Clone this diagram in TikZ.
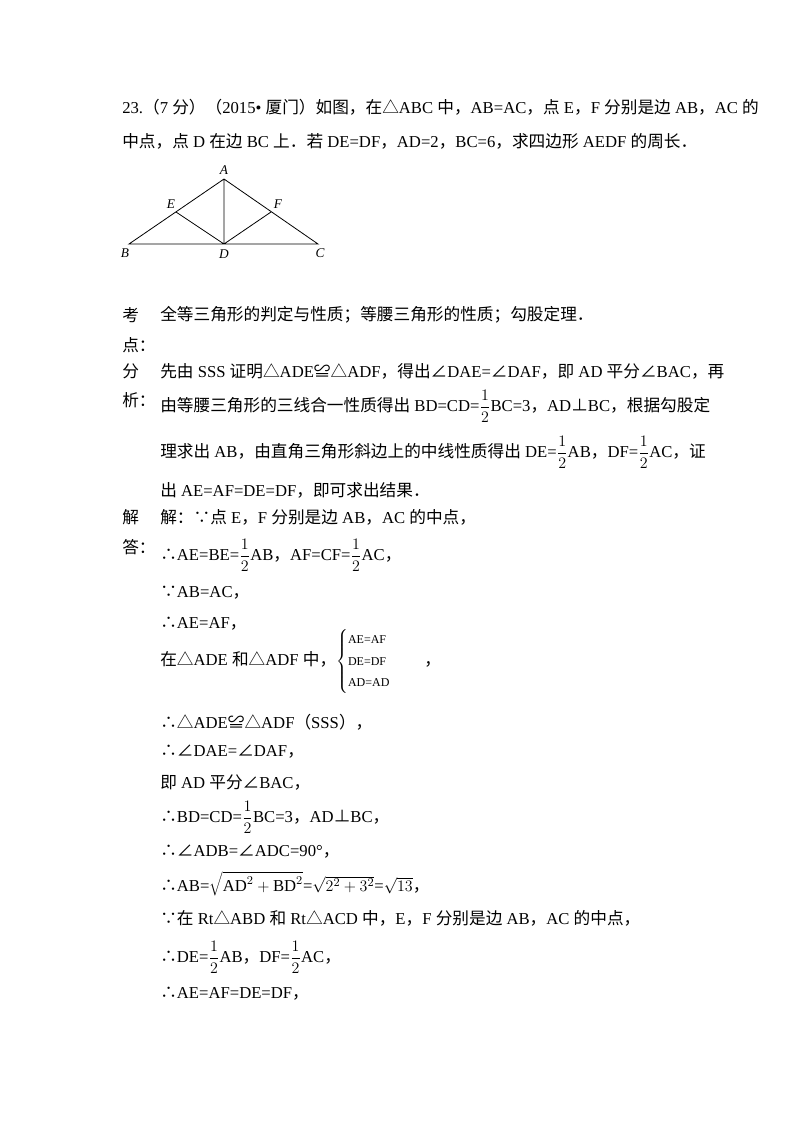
\documentclass[tikz,border=0pt]{standalone}
\usepackage{fontspec}
\setmainfont{Liberation Serif}
\newfontfamily\cjk{Noto Sans CJK SC}
\XeTeXinterchartokenstate=1
\newXeTeXintercharclass\cjkclass
\newXeTeXintercharclass\cjkp
\count255="4E00 \loop \XeTeXcharclass\count255=\cjkclass \ifnum\count255<"9FFF \advance\count255 by 1 \repeat
\count255="FF00 \loop \XeTeXcharclass\count255=\cjkp \ifnum\count255<"FF60 \advance\count255 by 1 \repeat
\count255="3000 \loop \XeTeXcharclass\count255=\cjkp \ifnum\count255<"303F \advance\count255 by 1 \repeat
\XeTeXcharclass"2234=\cjkp \XeTeXcharclass"2235=\cjkp \XeTeXcharclass"224C=\cjkp
\XeTeXcharclass"25B3=\cjkp \XeTeXcharclass"2220=\cjkp \XeTeXcharclass"22A5=\cjkp
\XeTeXinterchartoks 0 \cjkclass = {\hskip.25em\begingroup\cjk}
\XeTeXinterchartoks 4095 \cjkclass = {\begingroup\cjk}
\XeTeXinterchartoks \cjkclass 0 = {\endgroup\hskip.25em}
\XeTeXinterchartoks \cjkclass 4095 = {\endgroup}
\XeTeXinterchartoks 0 \cjkp = {\begingroup\cjk}
\XeTeXinterchartoks 4095 \cjkp = {\begingroup\cjk}
\XeTeXinterchartoks \cjkp 0 = {\endgroup}
\XeTeXinterchartoks \cjkp 4095 = {\endgroup}
\tikzset{t/.style={anchor=west,inner sep=0pt,font=\fontsize{12.5}{15}\selectfont},
lab/.style={inner sep=0pt,font=\itshape\fontsize{10}{12}\selectfont},
seg/.style={line width=0.6pt}}
\newcommand\hf{\displaystyle\frac{1}{2}}
\begin{document}
\begin{tikzpicture}[x=0.75pt,y=-0.75pt]
\useasboundingbox (0,0) rectangle (800,1132);
\node[t] (l1) at (122,107) {23.（7分）（2015•厦门）如图，在△ABC中，AB=AC，点E，F分别是边AB，AC的};
\node[t] (l2) at (122,141) {中点，点D在边BC上．若DE=DF，AD=2，BC=6，求四边形AEDF的周长．};
% figure
\coordinate (A) at (224,179); \coordinate (B) at (129,244); \coordinate (C) at (318,244);
\coordinate (D) at (224,244); \coordinate (E) at (176,212); \coordinate (F) at (271,212);
\draw[seg] (A)--(B)--(C)--cycle (A)--(D) (E)--(D)--(F);
\node[lab] (la) at (224,170) {A}; \node[lab] (lb) at (125,253) {B};
\node[lab] (ld) at (224,254) {D}; \node[lab] (lc) at (320,253) {C};
\node[lab] (le) at (171,204) {E}; \node[lab] (lf) at (278,204) {F};
% kaodian
\node[t] (k1) at (122,315) {考}; \node[t] (k2) at (122,345) {点：};
\node[t] (k3) at (160,315) {全等三角形的判定与性质；等腰三角形的性质；勾股定理．};
\node[t] (f1) at (122,371) {分}; \node[t] (f2) at (122,400) {析：};
\node[t] (f3) at (160,371) {先由SSS证明△ADE≌△ADF，得出∠DAE=∠DAF，即AD平分∠BAC，再};
\node[t] (f4) at (160,406) {由等腰三角形的三线合一性质得出BD=CD=$\hf$BC=3，AD⊥BC，根据勾股定};
\node[t] (f5) at (160,452) {理求出AB，由直角三角形斜边上的中线性质得出DE=$\hf$AB，DF=$\hf$AC，证};
\node[t] (f6) at (160,490) {出AE=AF=DE=DF，即可求出结果．};
\node[t] (j1) at (122,517) {解}; \node[t] (j2) at (122,547) {答：};
\node[t] (s1) at (160,517) {解：∵点E，F分别是边AB，AC的中点，};
\node[t] (s2) at (160,555) {∴AE=BE=$\hf$AB，AF=CF=$\hf$AC，};
\node[t] (s3) at (160,593) {∵AB=AC，};
\node[t] (s4) at (160,624) {∴AE=AF，};
\node[t] (s5) at (160,661) {在△ADE和△ADF中，$\left\{\begin{array}{@{}l@{}}\mbox{\small AE=AF}\\[1pt]\mbox{\small DE=DF}\\[1pt]\mbox{\small AD=AD}\end{array}\right.$\qquad ，};
\node[t] (s6) at (160,722) {∴△ADE≌△ADF（SSS），};
\node[t] (s7) at (160,752) {∴∠DAE=∠DAF，};
\node[t] (s8) at (160,783) {即AD平分∠BAC，};
\node[t] (s9) at (160,817) {∴BD=CD=$\hf$BC=3，AD⊥BC，};
\node[t] (s10) at (160,852) {∴∠ADB=∠ADC=90°，};
\node[t] (s11) at (160,884) {∴AB=$\sqrt{\mathrm{AD}^2+\mathrm{BD}^2}$=$\sqrt{2^2+3^2}$=$\sqrt{13}$，};
\node[t] (s12) at (160,918) {∵在Rt△ABD和Rt△ACD中，E，F分别是边AB，AC的中点，};
\node[t] (s13) at (160,957) {∴DE=$\hf$AB，DF=$\hf$AC，};
\node[t] (s14) at (160,994) {∴AE=AF=DE=DF，};
\end{tikzpicture}
\end{document}
